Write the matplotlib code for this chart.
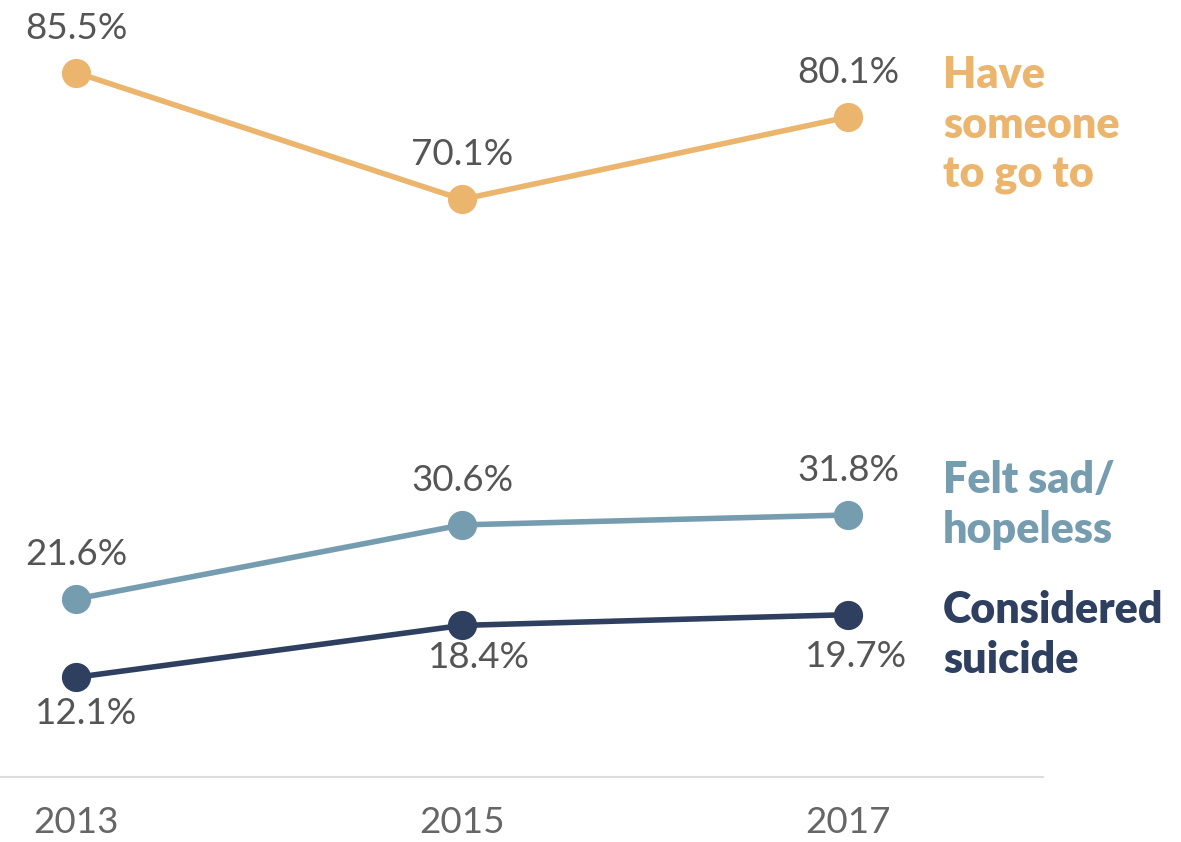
import matplotlib
matplotlib.use("Agg")
import matplotlib.pyplot as plt

years = [2013, 2015, 2017]
have_someone = [85.5, 70.1, 80.1]
felt_sad = [21.6, 30.6, 31.8]
considered = [12.1, 18.4, 19.7]
series_names = ["Have\nsomeone\nto go to", "Felt sad/\nhopeless", "Considered\nsuicide"]
colors = ["#EBB56E", "#769DAF", "#2E3F5F"]

W, H = 1181, 842
fig = plt.figure(figsize=(W / 100, H / 100), dpi=100)
ax = fig.add_axes([0, 65 / H, 1043 / W, 777 / H])
ax.set_xlim(2012.606, 2018.01)
ax.set_ylim(0, 94.3)
for s in ["top", "right", "left"]:
    ax.spines[s].set_visible(False)
ax.spines["bottom"].set_color("#DDDDDD")
ax.spines["bottom"].set_linewidth(1.5)
ax.set_yticks([])
ax.set_xticks(years)
ax.set_xticklabels([str(y) for y in years], fontfamily="Lato", fontweight="normal",
                   fontsize=26.5, color="#666666")
ax.tick_params(axis="x", length=0, pad=21)

label_font = dict(fontfamily="Lato", fontweight="normal", fontsize=26.5, color="#555555",
                  ha="center", va="center")

data = [have_someone, felt_sad, considered]
offsets = [
    [(0, 32), (0, 32), (0, 32)],
    [(0, 32), (0, 32), (0, 32)],
    [(7, -26), (12, -23), (6, -30)],
]
for vals, c, offs in zip(data, colors, offsets):
    ax.plot(years, vals, color=c, lw=4, marker="o", ms=20, clip_on=False, zorder=3)
    for x, v, o in zip(years, vals, offs):
        ax.annotate(f"{v}%", (x, v), xytext=o, textcoords="offset points", **label_font)

name_y = [73, 478, 608]
for name, c, yy in zip(series_names, colors, name_y):
    fig.text(943 / W, 1 - (yy - 18) / H, name, fontfamily="Lato", fontweight="heavy",
             fontsize=31, color=c, ha="left", va="top", linespacing=1.3)

fig.savefig("out.png", dpi=100, facecolor="white")
